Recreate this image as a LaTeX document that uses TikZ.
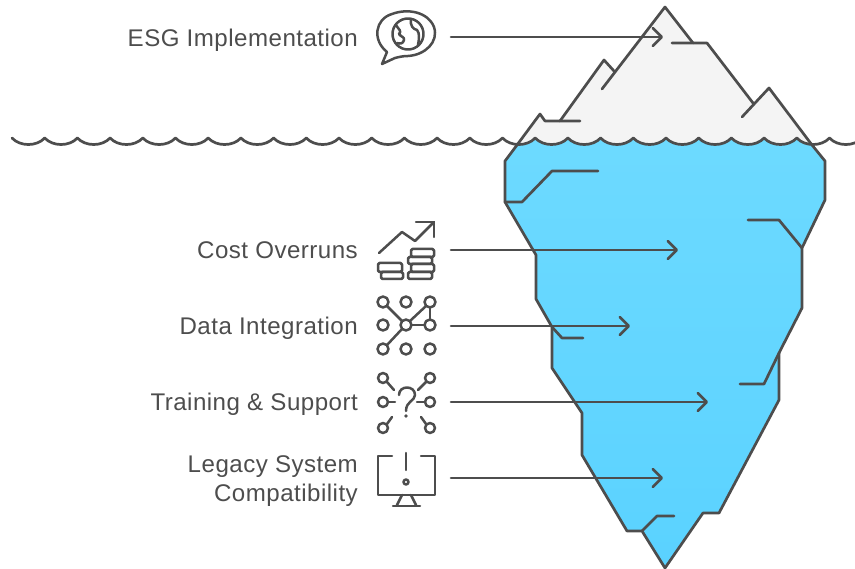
\documentclass[tikz,border=0pt]{standalone}
\usepackage{fontspec}
\setmainfont{Liberation Sans}
\usetikzlibrary{arrows.meta}
\definecolor{ink}{HTML}{4D4D4D}
\definecolor{snow}{HTML}{F4F4F4}
\definecolor{seatop}{HTML}{6DDAFF}
\definecolor{seabot}{HTML}{5AD2FF}
\tikzset{
  x=1pt,y=-1pt,
  ice/.style={draw=ink,line width=2.7pt,line cap=round,line join=round},
  icon/.style={draw=ink,line width=2.5pt,line cap=round,line join=round},
  lbl/.style={text=ink,inner sep=0pt,anchor=base east,font=\fontsize{24.1}{29}\selectfont\addfontfeatures{LetterSpace=2}},
  pointer/.style={draw=ink,line width=2.6pt,line cap=round,-{Straight Barb[length=9pt,width=18pt,line width=2.6pt,round]}},
}
\begin{document}
\begin{tikzpicture}
\useasboundingbox (0,0) rectangle (855,569);
\fill[white] (0,0) rectangle (855,569);
% snow fill
\fill[snow] (517,147) -- (540,114) -- (545,121) -- (560,121) -- (604,60) -- (614,71) -- (665,7) -- (693,43) -- (707,43) -- (753,103) -- (769,88) -- (812,147) -- cycle;
% sea fill, below the waves
\begin{scope}
\clip (12,138) \foreach \k in {0,...,26} { .. controls ({12+32.7*\k+8},146.7) and ({12+32.7*\k+24.7},146.7) .. ({12+32.7*(\k+1)},138) } -- (900,569) -- (0,569) -- cycle;
\shade[top color=seatop,middle color=seatop,bottom color=seabot] (505,161) -- (522,138) -- (807,138) -- (825,161) -- (825,200) -- (802,248) -- (802,308) -- (779,353) -- (779,400) -- (719,513) -- (703,513) -- (665,568) -- (642,531) -- (627,531) -- (582,455) -- (582,413) -- (552,368) -- (552,327) -- (536,299) -- (536,255) -- (505,202) -- cycle;
\end{scope}
% iceberg outlines
\draw[ice] (580,121) -- (545,121) -- (540,114) -- (517,145) -- (505,161) -- (505,202) -- (536,255) -- (536,299) -- (552,327) -- (552,368) -- (582,413) -- (582,455) -- (627,531) -- (642,531) -- (665,568) -- (703,513) -- (719,513) -- (779,400) -- (779,353);
\draw[ice] (560,121) -- (604,60) -- (614,71);
\draw[ice] (602,89) -- (665,7) -- (693,43);
\draw[ice] (672,43) -- (707,43) -- (753,103);
\draw[ice] (742,117) -- (769,88) -- (812,145) -- (825,161) -- (825,200) -- (802,248) -- (802,308) -- (779,353) -- (764,384) -- (740,384);
\draw[ice] (505,202) -- (522,202) -- (552,171) -- (598,171);
\draw[ice] (748,220) -- (779,220) -- (802,248);
\draw[ice] (552,327) -- (562,338) -- (583,338);
\draw[ice] (642,531) -- (657,516) -- (674,516);
% waves
\begin{scope}
\clip (0,0) rectangle (855,569);
\draw[ice] (12,138) \foreach \k in {0,...,26} { .. controls ({12+32.7*\k+8},146.7) and ({12+32.7*\k+24.7},146.7) .. ({12+32.7*(\k+1)},138) };
\end{scope}
% connectors
\coordinate (a1) at (451,37);  \coordinate (b1) at (663,37);
\coordinate (a2) at (451,250); \coordinate (b2) at (678,250);
\coordinate (a3) at (451,326); \coordinate (b3) at (630,326);
\coordinate (a4) at (451,402); \coordinate (b4) at (708,402);
\coordinate (a5) at (451,478); \coordinate (b5) at (663,478);
\draw[pointer] (a1) -- (b1);
\draw[pointer] (a2) -- (b2);
\draw[pointer] (a3) -- (b3);
\draw[pointer] (a4) -- (b4);
\draw[pointer] (a5) -- (b5);
% labels
\node[lbl] (t1) at (358,47) {ESG Implementation};
\node[lbl] (t2) at (358,259) {Cost Overruns};
\node[lbl] (t3) at (358,335) {Data Integration};
\node[lbl] (t4) at (358,411) {Training \& Support};
\node[lbl] (t5) at (358,472) {Legacy System};
\node[lbl] (t6) at (358,501) {Compatibility};
% globe bubble icon
\draw[icon] (387,52) .. controls (372,40) and (375,19) .. (392,14) .. controls (408,8) and (428,12) .. (434,27) .. controls (439,42) and (425,55) .. (408,56) .. controls (403,56) and (399,57) .. (395,58) -- (382,64) -- (387,52);
\draw[icon] (408,34) circle (15.5);
\draw[icon] (396,25) .. controls (399,30) and (402,31) .. (399,34) .. controls (401,37) and (405,37) .. (404,40) .. controls (403,44) and (400,44) .. (397,43);
\draw[icon] (411,19) .. controls (410,26) and (413,29) .. (417,30) .. controls (420,33) and (419,40) .. (418,45);
% cost icon
\draw[icon] (379,253) -- (402,232) -- (415,241) -- (434,222);
\draw[icon] (416,222) -- (434,222) -- (434,237);
\draw[icon,rounded corners=1.5pt] (378,263) rectangle (402,272);
\draw[icon,rounded corners=1.5pt] (381,272) rectangle (403,279);
\draw[icon,rounded corners=1.5pt] (411,249) rectangle (434,257);
\draw[icon,rounded corners=1.5pt] (408,257) rectangle (432,264);
\draw[icon,rounded corners=1.5pt] (411,264) rectangle (434,272);
\draw[icon,rounded corners=1.5pt] (408,272) rectangle (432,279);
% data icon
\foreach \cx in {383,406,430} \foreach \cy in {302,325,349} { \draw[icon] (\cx,\cy) circle (5.5); }
\draw[icon] (387,306) -- (402,321);
\draw[icon] (426,306) -- (410,321);
\draw[icon] (411,325) -- (425,325);
\draw[icon] (430,307) -- (430,320);
\draw[icon] (402,329) -- (387,345);
% training icon
\draw[icon] (383,378) circle (5);
\draw[icon] (430,378) circle (5);
\draw[icon] (383,402) circle (5);
\draw[icon] (430,402) circle (5);
\draw[icon] (383,428) circle (5);
\draw[icon] (430,428) circle (5);
\draw[icon] (387,382) -- (394,390);
\draw[icon] (426,382) -- (418,390);
\draw[icon] (388,402) -- (395,402);
\draw[icon] (425,402) -- (417,402);
\draw[icon] (387,424) -- (392,417);
\draw[icon] (426,424) -- (421,417);
\draw[icon] (399,395) .. controls (399,385) and (415,385) .. (415,395) .. controls (415,401) and (406,401) .. (406,411);
\fill[ink] (406,416) circle (1.8);
% monitor icon
\draw[icon] (392,456) -- (378,456) -- (378,495) -- (435,495) -- (435,456) -- (421,456);
\draw[icon] (406,453) -- (406,470);
\draw[icon] (406,482) circle (2.5);
\draw[icon] (402,495) -- (397,505);
\draw[icon] (411,495) -- (416,505);
\draw[icon] (393,506) -- (420,506);
\end{tikzpicture}
\end{document}
